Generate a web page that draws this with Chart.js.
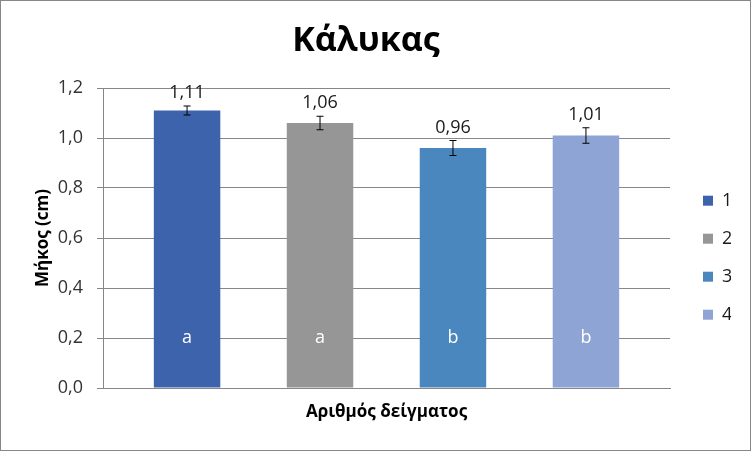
<!DOCTYPE html>
<html>
<head>
<meta charset="utf-8">
<script src="https://cdn.jsdelivr.net/npm/chart.js@4"></script>
<style>
  body { margin: 0; background: #fff; }
  #wrap { position: relative; width: 751px; height: 451px; box-sizing: border-box; border: 1px solid #878787; }
</style>
</head>
<body>
<div id="wrap"><canvas id="myChart"></canvas></div>
<script>
const seriesNames = ['1', '2', '3', '4'];
const values = [1.11, 1.06, 0.96, 1.01];
const errors = [0.018, 0.027, 0.03, 0.031];
const groupLetters = ['a', 'a', 'b', 'b'];
const colors = ['#3D63AD', '#969696', '#4A87BF', '#8EA4D4'];
const yTicks = [0, 0.2, 0.4, 0.6, 0.8, 1.0, 1.2];

const FONT = "'Open Sans', 'Noto Sans', sans-serif";
const gridColor = '#878787';

// error bars, value labels and the letters inside the bars
const barExtras = {
    id: 'barExtras',
    afterDatasetsDraw(chart) {
        const ctx = chart.ctx;
        const y = chart.scales.y;
        ctx.save();
        values.forEach((v, i) => {
            const bar = chart.getDatasetMeta(i).data[0];
            const x = bar.x;
            const top = y.getPixelForValue(v + errors[i]);
            const bottom = y.getPixelForValue(v - errors[i]);
            ctx.strokeStyle = '#000';
            ctx.lineWidth = 1;
            ctx.beginPath();
            ctx.moveTo(x, top); ctx.lineTo(x, bottom);
            ctx.moveTo(x - 3.5, top); ctx.lineTo(x + 3.5, top);
            ctx.moveTo(x - 3.5, bottom); ctx.lineTo(x + 3.5, bottom);
            ctx.stroke();

            ctx.fillStyle = '#1a1a1a';
            ctx.font = '18px ' + FONT;
            ctx.textAlign = 'center';
            ctx.textBaseline = 'middle';
            ctx.fillText(v.toFixed(2).replace('.', ','), x, top - 13);

            ctx.fillStyle = '#ffffff';
            ctx.fillText(groupLetters[i], x, y.getPixelForValue(0.2));
        });
        ctx.restore();
    }
};

const ctx = document.getElementById('myChart').getContext('2d');
window.myChart = new Chart(ctx, {
    type: 'bar',
    data: {
        labels: [''],
        datasets: seriesNames.map((name, i) => ({
            label: name,
            data: [values[i]],
            backgroundColor: colors[i],
            borderWidth: 0,
            barPercentage: 0.5,
            categoryPercentage: 0.938
        }))
    },
    options: {
        responsive: true,
        maintainAspectRatio: false,
        animation: false,
        layout: { padding: { left: 0, right: 19, top: 0, bottom: 0 } },
        plugins: {
            tooltip: { enabled: false },
            title: {
                display: true,
                text: 'Κάλυκας',
                color: '#000',
                font: { family: FONT, size: 34, weight: 'bold' },
                padding: { top: 19.6, bottom: 26.6 }
            },
            legend: {
                position: 'right',
                fullSize: false,
                maxWidth: 48,
                title: { display: true, text: ' ', font: { size: 12 }, padding: { top: 25, bottom: 0 } },
                labels: {
                    boxWidth: 10,
                    boxHeight: 10,
                    padding: 20,
                    color: '#1a1a1a',
                    font: { family: FONT, size: 18 }
                }
            }
        },
        scales: {
            x: {
                grid: { display: false },
                border: { display: true, color: gridColor },
                ticks: { display: false },
                title: {
                    display: true,
                    text: 'Αριθμός δείγματος',
                    color: '#000',
                    font: { family: FONT, size: 17, weight: 'bold' },
                    padding: { top: 0, bottom: 27.8 }
                },
                afterFit: s => { s.height = 62; }
            },
            y: {
                min: 0,
                max: 1.2,
                afterBuildTicks: s => { s.ticks = yTicks.map(v => ({ value: v })); },
                ticks: {
                    padding: 14,
                    color: '#333',
                    font: { family: FONT, size: 18 },
                    callback: v => v.toFixed(1).replace('.', ',')
                },
                grid: { color: gridColor, tickLength: 6 },
                border: { color: gridColor },
                title: {
                    display: true,
                    text: 'Μήκος (cm)',
                    color: '#000',
                    font: { family: FONT, size: 17, weight: 'bold' },
                    padding: { top: 31.8, bottom: 0 }
                },
                afterFit: s => { s.width = 102; }
            },
            yRight: {
                position: 'right',
                display: true,
                grid: { display: false },
                border: { display: false },
                ticks: { display: false },
                afterFit: s => { s.width = 13; }
            }
        }
    },
    plugins: [barExtras]
});
</script>
</body>
</html>
